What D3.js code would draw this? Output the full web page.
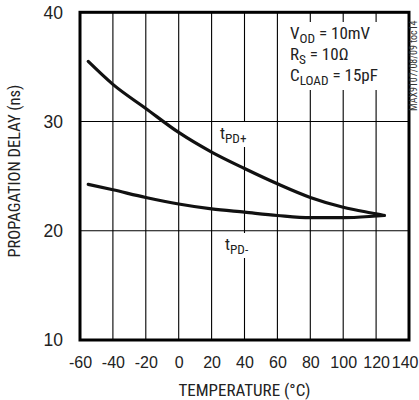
<!DOCTYPE html>
<html><head><meta charset="utf-8">
<script src="https://cdn.jsdelivr.net/npm/d3@7"></script>
<style>
html,body{margin:0;padding:0;background:#fff;}
svg{display:block;font-family:"Liberation Sans Narrow","Arial Narrow","Roboto Condensed","Liberation Sans",sans-serif;}
</style></head>
<body>
<script>
const temperatures = [-55, -40, -20, 0, 20, 40, 60, 80, 100, 120, 125];
const tpdPlus  = [35.5, 33.4, 31.2, 29.0, 27.2, 25.7, 24.3, 23.05, 22.15, 21.55, 21.4];
const tpdMinus = [24.25, 23.75, 23.05, 22.45, 22.0, 21.7, 21.4, 21.2, 21.2, 21.35, 21.4];
const xTicks = [-60, -40, -20, 0, 20, 40, 60, 80, 100, 120, 140];
const yTicks = [10, 20, 30, 40];

const W = 419, H = 400;
const m = {left: 80, top: 12.3, right: 409, bottom: 340};
const x = d3.scaleLinear().domain([-60, 140]).range([m.left, m.right]);
const y = d3.scaleLinear().domain([10, 40]).range([m.bottom, m.top]);

const svg = d3.select("body").append("svg").attr("width", W).attr("height", H);

// grid
svg.append("g").selectAll("line").data(xTicks.slice(1, -1)).join("line")
  .attr("x1", d => x(d)).attr("x2", d => x(d)).attr("y1", m.top).attr("y2", m.bottom)
  .attr("stroke", "#000").attr("stroke-width", 1.1);
svg.append("g").selectAll("line").data(yTicks.slice(1, -1)).join("line")
  .attr("y1", d => y(d)).attr("y2", d => y(d)).attr("x1", m.left).attr("x2", m.right)
  .attr("stroke", "#000").attr("stroke-width", 1.1);

// white boxes behind labels
svg.append("rect").attr("x", 286).attr("y", 22).attr("width", 110).attr("height", 68).attr("fill", "#fff");
svg.append("rect").attr("x", 218).attr("y", 122).attr("width", 32).attr("height", 25).attr("fill", "#fff");
svg.append("rect").attr("x", 222).attr("y", 233).attr("width", 30).attr("height", 25).attr("fill", "#fff");

// curves
const line = d3.line().x((d, i) => x(temperatures[i])).y(d => y(d)).curve(d3.curveMonotoneX);
[tpdPlus, tpdMinus].forEach(s => {
  svg.append("path").attr("d", line(s)).attr("fill", "none").attr("stroke", "#111")
    .attr("stroke-width", 3.2).attr("stroke-linecap", "round");
});

// frame
svg.append("rect").attr("x", m.left).attr("y", m.top).attr("width", m.right - m.left).attr("height", m.bottom - m.top)
  .attr("fill", "none").attr("stroke", "#000").attr("stroke-width", 3);

// axes labels
const xAxis = d3.axisBottom(x).tickValues(xTicks).tickSize(0).tickPadding(0).tickFormat(d => String(d));
const gx = svg.append("g").attr("transform", `translate(0,${m.bottom})`).call(xAxis);
gx.select(".domain").remove();
gx.selectAll("text").attr("dy", null).attr("y", 28).attr("font-size", 16).attr("fill", "#222")
  .attr("font-family", null);
gx.selectAll(".tick").filter(d => d === 140).select("text")
  .attr("text-anchor", "end").attr("x", W - 1 - m.right);

const yAxis = d3.axisLeft(y).tickValues(yTicks).tickSize(0).tickPadding(0).tickFormat(d => String(d));
const gy = svg.append("g").attr("transform", `translate(${m.left},0)`).call(yAxis);
gy.select(".domain").remove();
gy.selectAll("text").attr("x", -17).attr("dy", "0.34em").attr("font-size", 17.5).attr("fill", "#222")
  .attr("font-family", null);

svg.append("text").attr("x", (m.left + m.right) / 2).attr("y", 396).attr("text-anchor", "middle")
  .attr("font-size", 17).attr("fill", "#222").text("TEMPERATURE (°C)");
svg.append("text").attr("transform", `translate(20,${(m.top + m.bottom) / 2 - 5}) rotate(-90)`)
  .attr("text-anchor", "middle").attr("font-size", 16.5).attr("fill", "#222").text("PROPAGATION DELAY (ns)");

// series labels
function sub(main, subs, xx, yy, fs) {
  const t = svg.append("text").attr("x", xx).attr("y", yy).attr("font-size", fs).attr("fill", "#222");
  t.append("tspan").text(main);
  t.append("tspan").attr("dy", 4).attr("font-size", fs * 0.78).text(subs[0]);
  if (subs[1]) t.append("tspan").attr("dy", -4).text(subs[1]);
  return t;
}
sub("t", ["PD+"], 220, 139, 17);
sub("t", ["PD-"], 225, 250, 17);
sub("V", ["OD", " = 10mV"], 290, 39, 17);
sub("R", ["S", " = 10Ω"], 290, 60, 17);
sub("C", ["LOAD", " = 15pF"], 290, 81, 17);

svg.append("text").attr("transform", "translate(417,111) rotate(-90)").attr("font-size", 10)
  .attr("fill", "#333").text("MAX9107/08/09 toc14");
</script>
</body></html>
